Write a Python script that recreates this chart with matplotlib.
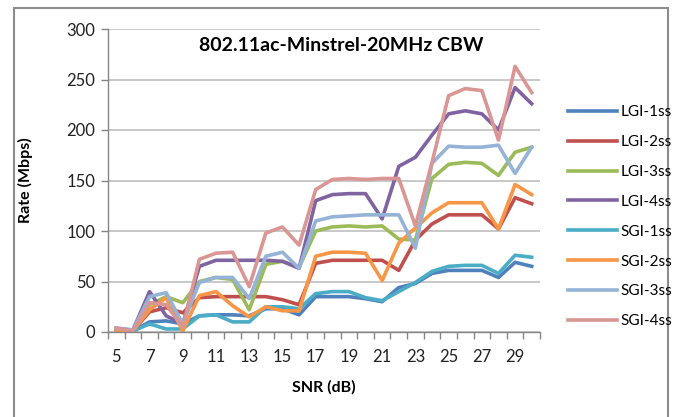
import matplotlib
matplotlib.use('Agg')
import matplotlib.pyplot as plt
import numpy as np
from matplotlib.patches import Rectangle

# SNR categories and rates (Mbps)
snr = list(range(5, 31))

lgi_1ss = [2, 1, 10, 11, 8, 16, 17, 17, 16, 23, 23, 17, 35, 35, 35, 33, 30, 44, 48, 58, 61, 61, 61, 54, 69, 65]
lgi_2ss = [3, 1, 20, 24, 19, 34, 35, 35, 35, 35, 32, 27, 68, 71, 71, 71, 71, 61, 91, 107, 116, 116, 116, 102, 133, 127]
lgi_3ss = [3, 2, 27, 35, 29, 50, 54, 52, 22, 67, 70, 64, 100, 104, 105, 104, 105, 92, 91, 152, 166, 168, 167, 155, 178, 183]
lgi_4ss = [3, 2, 40, 16, 8, 65, 71, 71, 71, 71, 70, 63, 130, 136, 137, 137, 112, 164, 173, 195, 216, 219, 216, 200, 242, 226]
sgi_1ss = [3, 1, 8, 3, 3, 16, 17, 10, 10, 25, 25, 23, 38, 40, 40, 34, 31, 40, 49, 60, 65, 66, 66, 58, 76, 74]
sgi_2ss = [2, 1, 22, 34, 1, 36, 40, 26, 15, 25, 21, 21, 75, 79, 79, 78, 51, 88, 103, 118, 128, 128, 128, 102, 146, 136]
sgi_3ss = [4, 2, 35, 39, 8, 49, 54, 54, 33, 75, 79, 63, 110, 114, 115, 116, 116, 116, 83, 167, 184, 183, 183, 185, 157, 183]
sgi_4ss = [4, 1, 29, 27, 5, 72, 78, 79, 45, 98, 104, 86, 141, 151, 152, 151, 152, 152, 105, 168, 234, 241, 239, 190, 263, 237]

names = ['LGI-1ss', 'LGI-2ss', 'LGI-3ss', 'LGI-4ss', 'SGI-1ss', 'SGI-2ss', 'SGI-3ss', 'SGI-4ss']
colors = ['#4F81BD', '#C0504D', '#9BBB59', '#8064A2', '#4BACC6', '#F79646', '#95B3D7', '#D99694']
series = [lgi_1ss, lgi_2ss, lgi_3ss, lgi_4ss, sgi_1ss, sgi_2ss, sgi_3ss, sgi_4ss]

plt.rcParams['font.family'] = ['Lato', 'DejaVu Sans']

W, H = 674, 417
fig = plt.figure(figsize=(W / 100, H / 100), dpi=100)

# outer chart border (bottom edge falls outside the image)
fig.patches.append(Rectangle((14 / W, -0.05), (668 - 14) / W, (417 - 8) / H + 0.05,
                             transform=fig.transFigure, fill=False,
                             edgecolor='#8C8C8C', linewidth=1.5))

ax = fig.add_axes([108 / W, (H - 332) / H, (540 - 108) / W, (332 - 29) / H])

x = np.arange(len(snr))
for name, vals, c in zip(names, series, colors):
    ax.plot(x, vals, color=c, linewidth=2.6, label=name, solid_joinstyle='round')

ax.set_xlim(-0.5, len(snr) - 0.5)
ax.set_ylim(0, 300)
ax.set_yticks(np.arange(0, 301, 50))
ax.grid(axis='y', color='#BFBFBF', linewidth=1.2)
ax.set_axisbelow(True)

# category labels on odd SNR values, tick marks between categories
ax.set_xticks(x[::2])
ax.set_xticklabels([str(s) for s in snr[::2]])
ax.set_xticks(np.arange(-0.5, len(snr), 1), minor=True)
ax.tick_params(axis='x', which='major', length=0, pad=12, labelsize=12, colors='#222222')
ax.tick_params(axis='x', which='minor', length=5, color='#868686', width=1)
ax.tick_params(axis='y', length=5, color='#868686', width=1, labelsize=12, pad=4)
ax.tick_params(axis='y', colors='#868686', labelcolor='#222222')

for s in ['top', 'right']:
    ax.spines[s].set_visible(False)
for s in ['left', 'bottom']:
    ax.spines[s].set_color('#868686')
    ax.spines[s].set_linewidth(1)

ax.text(0.54, 0.975, '802.11ac-Minstrel-20MHz CBW', transform=ax.transAxes,
        ha='center', va='top', fontsize=14, fontweight='bold')

fig.text(25 / W, 1 - 180 / H, 'Rate (Mbps)', rotation=90, ha='center', va='center',
         fontsize=11.5, fontweight='bold')
fig.text(324 / W, 1 - 387 / H, 'SNR (dB)', ha='center', va='center',
         fontsize=11.5, fontweight='bold')

leg = fig.legend(loc='upper left', bbox_to_anchor=(562 / W, 1 - 99 / H), frameon=False,
                 fontsize=11, handlelength=3.2, handletextpad=0.25, labelspacing=1.04,
                 borderaxespad=0)

fig.savefig('out.png', dpi=100)
